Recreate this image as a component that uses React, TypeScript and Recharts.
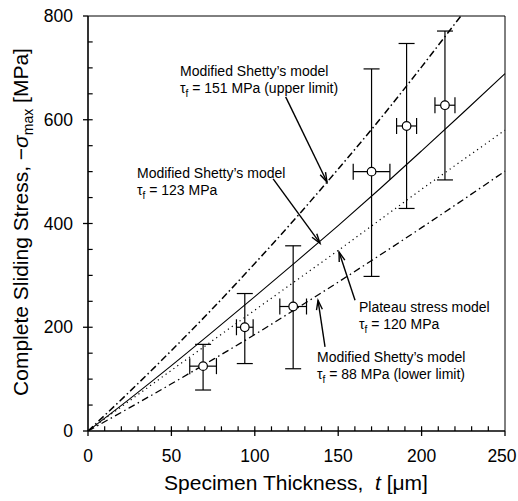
import React from "react";
import {
  ComposedChart,
  ErrorBar,
  Line,
  ReferenceLine,
  Scatter,
  XAxis,
  YAxis,
} from "recharts";

const FONT = "'Liberation Sans', Arial, Helvetica, sans-serif";

// measured specimens (circles with error bars)
const thickness = [69, 94, 123, 170, 191, 214];
const thicknessErr = [8, 5, 8, 11, 6, 6];
const stress = [125, 200, 240, 500, 588, 628];
const stressErrLow = [46, 70, 120, 202, 159, 144];
const stressErrHigh = [42, 65, 117, 198, 159, 143];

// model curves
const modelT = [0, 25, 50, 75, 100, 125, 150, 175, 200, 225, 250];
const shetty151 = [0, 76, 155, 237, 323, 412, 505, 601, 702, 806, 909];
const shetty123 = [0, 62, 126, 192, 259, 327, 396, 467, 540, 614, 689];
const shetty88 = [0, 45, 91, 138, 186, 236, 287, 339, 392, 446, 501];
const plateauT = [0, 50, 100, 150, 200, 250];
const plateau120 = [0, 117, 233, 348, 466, 580];

const xTicks = [0, 50, 100, 150, 200, 250];
const xMinorTicks = [
  10, 20, 30, 40, 50, 60, 70, 80, 90, 100, 110, 120, 130, 140, 150, 160,
  170, 180, 190, 200, 210, 220, 230, 240,
];
const yTicks = [0, 200, 400, 600, 800];
const yMinorTicks = [50, 100, 150, 200, 250, 300, 350, 400, 450, 500, 550, 600, 650, 700, 750];

const W = 518;
const H = 501;
const LEFT = 88;
const TOP = 16;
const RIGHT = 13;
const BOTTOM = 70;
const PW = W - LEFT - RIGHT;
const PH = H - TOP - BOTTOM;
// inward tick length, expressed in axis units (about 4-5 px)
const X_TICK_LEN = 9; // MPa
const Y_TICK_LEN = 2.8; // um

const points = thickness.map((t, i) => ({
  t,
  s: stress[i],
  tErr: thicknessErr[i],
  sErr: [stressErrLow[i], stressErrHigh[i]],
}));
const curve = (ts: number[], vals: number[]) => ts.map((t, i) => ({ t, s: vals[i] }));

// data -> pixel, for the annotation overlay only
const px = (t: number, s: number): [number, number] => [
  LEFT + (t / 250) * PW,
  TOP + (1 - s / 800) * PH,
];

function Arrow({ from, to }: { from: [number, number]; to: [number, number] }) {
  const [x1, y1] = px(from[0], from[1]);
  const [x2, y2] = px(to[0], to[1]);
  const a = Math.atan2(y2 - y1, x2 - x1);
  const L = 10;
  const h = 0.3;
  const p1 = `${x2 - L * Math.cos(a - h)},${y2 - L * Math.sin(a - h)}`;
  const p2 = `${x2 - L * Math.cos(a + h)},${y2 - L * Math.sin(a + h)}`;
  return (
    <g stroke="#000" strokeWidth={1.4} fill="none">
      <line x1={x1} y1={y1} x2={x2} y2={y2} />
      <polyline points={`${p1} ${x2},${y2} ${p2}`} />
    </g>
  );
}

function Note({ x, y, lines }: { x: number; y: number; lines: [string, string, string] }) {
  return (
    <text x={x} y={y} fontSize={14} fontFamily={FONT} fill="#000">
      <tspan x={x}>{lines[0]}</tspan>
      <tspan x={x} dy={17}>{lines[1]}</tspan>
      <tspan dy={4} fontSize={10}>f</tspan>
      <tspan dy={-4}>{lines[2]}</tspan>
    </text>
  );
}

function XTick(props: any) {
  const { x, y, payload } = props;
  return (
    <text
      x={x}
      y={y}
      dy="0.71em"
      dx={payload.value === 250 ? -3 : 0}
      textAnchor="middle"
      fontSize={17.5}
      fontFamily={FONT}
      fill="#000"
    >
      {payload.value}
    </text>
  );
}

const tickStyle = { fontSize: 17.5, fill: "#000", fontFamily: FONT };

export default function App() {
  return (
    <div style={{ position: "absolute", left: 0, top: 0, width: W, height: H, background: "#fff" }}>
      <ComposedChart
        width={W}
        height={H}
        margin={{ top: TOP, right: RIGHT, bottom: 0, left: 0 }}
      >
        <XAxis
          dataKey="t"
          type="number"
          domain={[0, 250]}
          ticks={xTicks}
          interval={0}
          height={BOTTOM}
          tickSize={5}
          tickMargin={14}
          tick={(p: any) => <XTick {...p} />}
          axisLine={{ stroke: "#000", strokeWidth: 1.6 }}
          tickLine={{ stroke: "#000", strokeWidth: 1.3 }}
        />
        <YAxis
          type="number"
          domain={[0, 800]}
          allowDataOverflow
          ticks={yTicks}
          interval={0}
          width={LEFT}
          tickSize={5}
          tickMargin={10}
          tick={tickStyle}
          axisLine={{ stroke: "#000", strokeWidth: 1.6 }}
          tickLine={{ stroke: "#000", strokeWidth: 1.3 }}
        />
        <ReferenceLine y={800} stroke="#000" strokeWidth={1} />
        <ReferenceLine x={250} stroke="#000" strokeWidth={1} />
        {/* inward minor ticks */}
        {xMinorTicks.map((v) => (
          <ReferenceLine
            key={`xt${v}`}
            segment={[{ x: v, y: 0 }, { x: v, y: X_TICK_LEN }]}
            stroke="#000"
            strokeWidth={1.2}
          />
        ))}
        {yMinorTicks.map((v) => (
          <ReferenceLine
            key={`yt${v}`}
            segment={[{ x: 0, y: v }, { x: Y_TICK_LEN, y: v }]}
            stroke="#000"
            strokeWidth={1.2}
          />
        ))}

        <Line
          data={curve(modelT, shetty151)}
          dataKey="s"
          type="monotone"
          stroke="#000"
          strokeWidth={1.5}
          strokeDasharray="7 3 1.5 3"
          dot={false}
          activeDot={false}
          isAnimationActive={false}
        />
        <Line
          data={curve(modelT, shetty123)}
          dataKey="s"
          type="monotone"
          stroke="#000"
          strokeWidth={1.1}
          dot={false}
          activeDot={false}
          isAnimationActive={false}
        />
        <Line
          data={curve(plateauT, plateau120)}
          dataKey="s"
          type="linear"
          stroke="#000"
          strokeWidth={1.2}
          strokeDasharray="1.2 3.6"
          dot={false}
          activeDot={false}
          isAnimationActive={false}
        />
        <Line
          data={curve(modelT, shetty88)}
          dataKey="s"
          type="monotone"
          stroke="#000"
          strokeWidth={1.3}
          strokeDasharray="7 3.5 1.5 3.5"
          dot={false}
          activeDot={false}
          isAnimationActive={false}
        />
        <Scatter
          data={points}
          dataKey="s"
          isAnimationActive={false}
          shape={(p: any) => (
            <circle cx={p.cx} cy={p.cy} r={4.3} fill="#fff" stroke="#000" strokeWidth={1.2} />
          )}
        >
          <ErrorBar dataKey="sErr" direction="y" width={8} stroke="#000" strokeWidth={1.2} isAnimationActive={false} />
          <ErrorBar dataKey="tErr" direction="x" width={8} stroke="#000" strokeWidth={1.2} isAnimationActive={false} />
        </Scatter>
      </ComposedChart>

      <svg
        width={W}
        height={H}
        style={{ position: "absolute", left: 0, top: 0, pointerEvents: "none" }}
      >
        <Note x={180} y={76} lines={["Modified Shetty’s model", "τ", " = 151 MPa (upper limit)"]} />
        <Arrow from={[118.5, 644]} to={[143.3, 480]} />
        <Note x={137} y={178} lines={["Modified Shetty’s model", "τ", " = 123 MPa"]} />
        <Arrow from={[111, 486]} to={[139.1, 362]} />
        <Note x={359} y={312} lines={["Plateau stress model", "τ", " = 120 MPa"]} />
        <Arrow from={[160.1, 252]} to={[150.5, 345]} />
        <Note x={317} y={362} lines={["Modified Shetty’s model", "τ", " = 88 MPa (lower limit)"]} />
        <Arrow from={[142.1, 162]} to={[137.9, 252]} />

        <text
          x={296}
          y={490}
          textAnchor="middle"
          fontSize={21}
          fontFamily={FONT}
          fill="#000"
        >
          Specimen Thickness,{"\u00A0\u00A0"}
          <tspan fontStyle="italic">t</tspan>
          {"\u00A0"}[μm]
        </text>
        <text
          transform="translate(28 222) rotate(-90)"
          textAnchor="middle"
          fontSize={21}
          fontFamily={FONT}
          fill="#000"
        >
          Complete Sliding Stress, −<tspan fontStyle="italic">σ</tspan>
          <tspan dy={5} fontSize={14}>max</tspan>
          <tspan dy={-5}> [MPa]</tspan>
        </text>
      </svg>
    </div>
  );
}
